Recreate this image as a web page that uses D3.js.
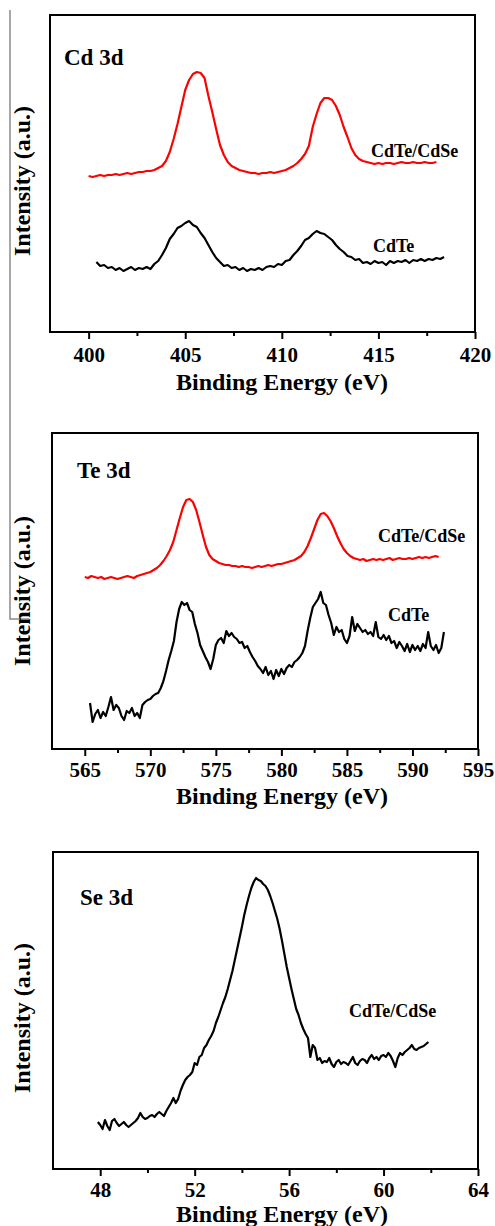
<!DOCTYPE html>
<html>
<head>
<meta charset="utf-8">
<script src="https://cdn.jsdelivr.net/npm/d3@7"></script>
<style>
  html, body { margin: 0; padding: 0; background: #fff; }
  svg { display: block; }
  svg text { font-family: 'Liberation Serif', 'DejaVu Serif', serif !important; font-weight: 700; fill: #000; }
</style>
</head>
<body>
<svg id="chart" width="495" height="1226"></svg>
<script>
// ---------------- DATA ----------------
// Panel 1: Cd 3d
const cdDomain = [398, 420];
const cdMajorTicks = [400, 405, 410, 415, 420];
const cdMinorTicks = [402.5, 407.5, 412.5, 417.5];
const cdRedRange = [400.0, 418.0];   // CdTe/CdSe energies (eV), evenly sampled
const cdRed = [156,155,156,157,156,157,157,158,157,158,159,158,159,160,160,161,161,162,164,166,
  171,180,193,208,225,242,252,258,260,259,254,236,220,203,187,177,170,166,164,162,
  161,160,159,159,158,159,159,160,159,160,161,162,164,166,169,173,178,186,205,218,
  229,234,234,232,226,217,205,195,184,177,173,171,170,169,168,169,168,169,169,168,
  169,170,169,169,170,169,169,170,169,169,170];
const cdBlackRange = [400.4, 418.4]; // CdTe
const cdBlack = [70,66,67,64,65,62,64,61,63,65,62,64,63,65,63,68,71,77,84,93,
  98,104,106,109,111,107,105,99,94,87,80,74,70,66,67,64,65,62,64,61,
  63,62,64,62,65,66,65,68,67,71,72,77,81,86,92,94,98,101,99,98,
  95,92,87,83,80,76,75,72,73,69,70,68,71,69,70,67,71,69,71,70,
  72,69,72,71,73,71,73,72,74,73,75];

// Panel 2: Te 3d
const teDomain = [562.5, 595];
const teMajorTicks = [565, 570, 575, 580, 585, 590, 595];
const teMinorTicks = [567.5, 572.5, 577.5, 582.5, 587.5, 592.5];
const teRedRange = [565.0, 592.0];
const teRed = [172,171,173,172,171,172,170,171,172,171,170,171,172,173,172,171,173,174,175,176,
  177,179,181,184,188,193,199,207,219,231,242,249,250,247,239,227,214,202,194,190,
  188,186,185,184,184,183,183,182,183,182,182,181,182,183,182,183,184,183,184,185,
  185,186,187,188,189,191,193,197,203,211,220,229,235,236,233,228,221,213,206,200,
  196,193,191,190,189,190,188,189,190,189,190,189,190,191,189,190,191,190,190,191,
  190,191,192,191,192,191,192,193,192];
const teBlackRange = [565.4, 592.4];
const teBlack = [46,27,35,39,31,37,33,42,52,39,44,41,33,29,38,36,41,33,36,31,
  44,47,49,50,53,55,56,61,68,78,89,98,108,127,140,147,144,146,139,137,
  125,116,104,98,92,87,80,90,104,109,111,106,118,113,116,112,110,106,107,101,
  103,97,92,88,83,80,76,82,74,78,70,79,73,80,75,81,84,82,87,89,
  92,96,103,118,131,142,146,150,157,146,144,134,126,114,122,117,119,110,106,113,
  132,118,125,121,117,119,115,117,113,127,112,110,114,109,113,106,108,101,107,103,
  98,105,97,104,99,103,98,105,101,117,103,99,104,96,101,117];

// Panel 3: Se 3d
const seDomain = [46, 64];
const seMajorTicks = [48, 52, 56, 60, 64];
const seMinorTicks = [50, 54, 58, 62];
const seRange = [47.9, 61.9];
const seCurve = [47,44,40,49,43,39,48,50,46,43,45,47,44,42,44,46,48,51,56,52,
  50,51,53,54,52,55,57,55,53,58,62,66,71,66,70,78,84,89,92,94,
  97,106,104,112,114,121,124,129,133,138,146,152,159,166,172,180,189,198,209,220,
  231,242,254,264,273,281,287,291,289,288,285,283,279,273,266,258,250,240,228,215,
  202,191,180,170,160,154,146,140,135,131,112,124,121,109,111,106,108,107,111,105,
  102,107,109,105,107,106,104,108,112,106,104,108,110,109,106,111,114,110,112,109,
  113,114,112,116,113,108,102,111,116,114,117,119,121,124,120,119,121,122,123,125,127];

const panelTitles = ["Cd 3d", "Te 3d", "Se 3d"];
const xTitle = "Binding Energy (eV)";
const yTitle = "Intensity (a.u.)";

// ---------------- LAYOUT ----------------
const FONT = "'Liberation Serif', 'DejaVu Serif', serif";
const panels = [
  { title: panelTitles[0], domain: cdDomain, major: cdMajorTicks, minor: cdMinorTicks,
    box: { l: 50, r: 475, t: 15, b: 332 }, yMax: 317, labelDy: 30, titleY: 390, yLabelY: 181,
    titlePos: [64, 65],
    series: [
      { vals: cdRed, range: cdRedRange, color: "#ff0000", label: "CdTe/CdSe", lx: 371, ly: 157 },
      { vals: cdBlack, range: cdBlackRange, color: "#000000", label: "CdTe", lx: 373, ly: 252 }
    ] },
  { title: panelTitles[1], domain: teDomain, major: teMajorTicks, minor: teMinorTicks,
    box: { l: 52, r: 478, t: 433, b: 749 }, yMax: 316, labelDy: 28, titleY: 804, yLabelY: 591,
    titlePos: [77, 478],
    series: [
      { vals: teRed, range: teRedRange, color: "#ff0000", label: "CdTe/CdSe", lx: 378, ly: 542 },
      { vals: teBlack, range: teBlackRange, color: "#000000", label: "CdTe", lx: 388, ly: 621 }
    ] },
  { title: panelTitles[2], domain: seDomain, major: seMajorTicks, minor: seMinorTicks,
    box: { l: 53, r: 478, t: 852, b: 1169 }, yMax: 317, labelDy: 28, titleY: 1222, yLabelY: 1018,
    titlePos: [80, 905],
    series: [
      { vals: seCurve, range: seRange, color: "#000000", label: "CdTe/CdSe", lx: 349, ly: 1017 }
    ] }
];

const svg = d3.select("#chart");

// thin gray guide line at far left
svg.append("path")
  .attr("d", d3.line()([[10, 10], [10, 619], [29, 619]]))
  .attr("fill", "none").attr("stroke", "#8a8a8a").attr("stroke-width", 1.5);

function txt(sel) {
  return sel.attr("font-family", FONT).attr("font-weight", "bold").attr("fill", "#000");
}

panels.forEach(p => {
  const B = p.box;
  const x = d3.scaleLinear().domain(p.domain).range([B.l, B.r]);
  const y = d3.scaleLinear().domain([0, p.yMax]).range([B.b, B.t]);
  const g = svg.append("g");

  // curves
  p.series.forEach(s => {
    const ex = d3.scaleLinear().domain([0, s.vals.length - 1]).range(s.range);
    const line = d3.line().x((d, i) => x(ex(i))).y(d => y(d));
    g.append("path").datum(s.vals)
      .attr("d", line)
      .attr("fill", "none")
      .attr("stroke", s.color)
      .attr("stroke-width", 2.2)
      .attr("stroke-linejoin", "round");
    txt(g.append("text").attr("x", s.lx).attr("y", s.ly)
      .attr("font-size", 18).text(s.label));
  });

  // minor ticks
  const minorAxis = d3.axisBottom(x).tickValues(p.minor).tickSize(4).tickFormat("");
  const gm = g.append("g").attr("transform", `translate(0,${B.b})`).call(minorAxis);
  gm.attr("font-family", null);
  gm.select(".domain").remove();
  gm.selectAll("line").attr("stroke", "#000").attr("stroke-width", 2);

  // major ticks
  const majorAxis = d3.axisBottom(x).tickValues(p.major).tickSize(7).tickFormat(d3.format("d"));
  const ga = g.append("g").attr("transform", `translate(0,${B.b})`).call(majorAxis);
  ga.attr("font-family", FONT).attr("font-size", 21);
  ga.select(".domain").remove();
  ga.selectAll("line").attr("stroke", "#000").attr("stroke-width", 2);
  txt(ga.selectAll("text").attr("y", p.labelDy).attr("dy", 0).attr("font-size", 21));

  // frame
  g.append("rect")
    .attr("x", B.l).attr("y", B.t)
    .attr("width", B.r - B.l).attr("height", B.b - B.t)
    .attr("fill", "none").attr("stroke", "#000").attr("stroke-width", 2);

  // panel title
  txt(g.append("text").attr("x", p.titlePos[0]).attr("y", p.titlePos[1])
    .attr("font-size", 23).text(p.title));

  // axis titles
  txt(g.append("text").attr("x", 282).attr("y", p.titleY)
    .attr("text-anchor", "middle").attr("font-size", 24).text(xTitle));
  txt(g.append("text")
    .attr("transform", `translate(30,${p.yLabelY}) rotate(-90)`)
    .attr("text-anchor", "middle").attr("font-size", 24).text(yTitle));
});
</script>
</body>
</html>
